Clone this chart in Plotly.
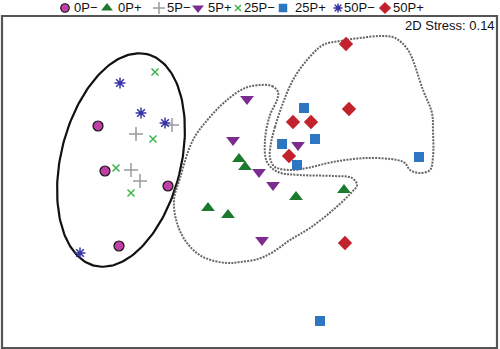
import numpy as np
import plotly.graph_objects as go

# ---- data: NMDS coordinates ----
groups = ["0P−", "0P+", "5P−", "5P+", "25P−", "25P+", "50P−", "50P+"]

x_0Pm = [-1.52, -1.45, -0.82, -1.31]
y_0Pm = [0.49, 0.04, -0.11, -0.71]
x_0Pp = [-0.11, -0.05, -0.42, -0.22, 0.46, 0.94]
y_0Pp = [0.16, 0.08, -0.33, -0.40, -0.22, -0.15]
x_5Pm = [-0.78, -1.14, -1.19, -1.10]
y_5Pm = [0.50, 0.41, 0.05, -0.06]
x_5Pp = [-0.03, -0.17, 0.09, 0.23, 0.48, 0.12]
y_5Pp = [0.76, 0.35, 0.03, -0.10, 0.30, -0.65]
x_25Pm = [-0.95, -0.97, -1.34, -1.19]
y_25Pm = [1.03, 0.36, 0.07, -0.18]
x_25Pp = [0.54, 0.32, 0.65, 0.47, 1.69, 0.70]
y_25Pp = [0.67, 0.31, 0.36, 0.10, 0.18, -1.46]
x_50Pm = [-1.30, -1.09, -0.85, -1.70]
y_50Pm = [0.92, 0.62, 0.52, -0.78]
x_50Pp = [0.96, 0.99, 0.43, 0.61, 0.39, 0.95]
y_50Pp = [1.31, 0.66, 0.53, 0.53, 0.19, -0.68]

# hand-drawn group outlines (dotted)
outline1_x = [0.10, 0.22, 0.28, 0.27, 0.20, 0.15, 0.17, 0.28, 0.50, 0.83, 1.02, 1.07, 1.00,
              0.83, 0.60, 0.40, 0.23, 0.08, -0.10, -0.23, -0.47, -0.63, -0.73, -0.76, -0.70,
              -0.57, -0.40, -0.23, -0.05, 0.10]
outline1_y = [0.90, 0.89, 0.83, 0.75, 0.60, 0.35, 0.13, 0.03, 0.00, -0.01, -0.03, -0.10, -0.19,
              -0.35, -0.53, -0.65, -0.77, -0.84, -0.87, -0.88, -0.82, -0.68, -0.48, -0.25, -0.03,
              0.35, 0.58, 0.75, 0.87, 0.90]
outline2_x = [0.21, 0.25, 0.33, 0.43, 0.57, 0.73, 0.90, 1.10, 1.32, 1.45, 1.58, 1.73, 1.82, 1.83,
              1.83, 1.80, 1.70, 1.60, 1.55, 1.47, 1.17, 0.83, 0.57, 0.40, 0.25, 0.20, 0.21]
outline2_y = [0.32, 0.48, 0.72, 0.95, 1.15, 1.30, 1.34, 1.37, 1.39, 1.37, 1.25, 0.85, 0.62, 0.45,
              0.18, 0.05, 0.02, 0.05, 0.12, 0.15, 0.17, 0.13, 0.07, 0.05, 0.08, 0.17, 0.32]

# ellipse around the P− groups: centre, semi-axes, tilt (deg from vertical)
ell_cx, ell_cy, ell_a, ell_b, ell_tilt = -1.29, 0.15, 1.09, 0.60, 14

stress_label = "2D Stress: 0.14"

# ---- styles ----
def style(g, s=1.0):
    base = {
        "0P−": dict(symbol="circle", size=10, color="#bf3fa6", line=dict(color="#111", width=1.2)),
        "0P+": dict(symbol="triangle-up", size=12, color="#1c7a2e", line=dict(width=0)),
        "5P−": dict(symbol="cross-thin-open", size=10, color="#9a9a9a", line=dict(color="#9a9a9a", width=1.5)),
        "5P+": dict(symbol="triangle-down", size=12, color="#7b2d8f", line=dict(width=0)),
        "25P−": dict(symbol="x-thin-open", size=7, color="#3db54a", line=dict(color="#3db54a", width=1.5)),
        "25P+": dict(symbol="square", size=10, color="#2c76c2", line=dict(width=0)),
        "50P−": dict(symbol="asterisk-open", size=9, color="#3434a6", line=dict(color="#3434a6", width=1.5)),
        "50P+": dict(symbol="diamond", size=11, color="#c2222b", line=dict(width=0)),
    }[g]
    base = dict(base)
    base["size"] = base["size"] * s
    return base

data = {
    "0P−": (x_0Pm, y_0Pm), "0P+": (x_0Pp, y_0Pp), "5P−": (x_5Pm, y_5Pm), "5P+": (x_5Pp, y_5Pp),
    "25P−": (x_25Pm, y_25Pm), "25P+": (x_25Pp, y_25Pp), "50P−": (x_50Pm, y_50Pm), "50P+": (x_50Pp, y_50Pp),
}

W, H = 500, 349
fx0, fx1, fy0, fy1 = 2, 497, 16, 348  # frame in pixels

fig = go.Figure()

# ellipse
t = np.linspace(0, 2 * np.pi, 200)
th = np.deg2rad(ell_tilt)
ex = ell_cx + ell_b * np.cos(t) * np.cos(th) + ell_a * np.sin(t) * np.sin(th)
ey = ell_cy - ell_b * np.cos(t) * np.sin(th) + ell_a * np.sin(t) * np.cos(th)
fig.add_trace(go.Scatter(x=ex, y=ey, mode="lines", line=dict(color="#111", width=2.2),
                         hoverinfo="skip", showlegend=False))
for ox, oy in [(outline1_x, outline1_y), (outline2_x, outline2_y)]:
    fig.add_trace(go.Scatter(x=ox, y=oy, mode="lines",
                             line=dict(color="#666", width=2, dash="2px,1.2px", shape="spline", smoothing=1.0),
                             hoverinfo="skip", showlegend=False))

for g in groups:
    xs, ys = data[g]
    fig.add_trace(go.Scatter(x=xs, y=ys, mode="markers", name=g, marker=style(g), showlegend=False))

# custom legend row on its own axes
leg_sym_x = [65, 107, 159, 198, 238, 283, 338, 385]
leg_txt_x = [73, 117, 166, 207, 243, 294, 343, 392]
for g, sx, tx in zip(groups, leg_sym_x, leg_txt_x):
    fig.add_trace(go.Scatter(x=[sx], y=[0.5], mode="markers", marker=style(g, 0.85), xaxis="x2", yaxis="y2",
                             showlegend=False, hoverinfo="skip"))
    fig.add_annotation(x=tx / W, y=1 - 8 / H, xref="paper", yref="paper", text=g, showarrow=False,
                       xanchor="left", yanchor="middle", font=dict(size=13, color="#111"), borderpad=0)

fig.add_annotation(x=496 / W, y=1 - 26 / H, xref="paper", yref="paper", text=stress_label, showarrow=False,
                   xanchor="right", yanchor="middle", font=dict(size=13, color="#111"), borderpad=0)

fig.add_shape(type="rect", xref="paper", yref="paper", x0=fx0 / W, x1=fx1 / W, y0=1 - fy1 / H, y1=1 - fy0 / H,
              line=dict(color="#555", width=2.2), layer="above")

fig.update_layout(
    width=W, height=H, margin=dict(l=0, r=0, t=0, b=0),
    paper_bgcolor="white", plot_bgcolor="white",
    font=dict(family="Liberation Sans, Arial, sans-serif"),
    xaxis=dict(domain=[fx0 / W, fx1 / W], range=[-2.48, 2.47], visible=False, fixedrange=True),
    yaxis=dict(domain=[1 - fy1 / H, 1 - fy0 / H], range=[-1.73, 1.59], visible=False, fixedrange=True),
    xaxis2=dict(domain=[0, 1], range=[0, W], visible=False, anchor="y2", fixedrange=True),
    yaxis2=dict(domain=[1 - fy0 / H, 1], range=[0, 1], visible=False, anchor="x2", fixedrange=True),
    showlegend=False,
)
fig.write_html("out.html", config={"displayModeBar": False},
               post_script="document.body.style.margin='0';document.body.style.overflow='hidden';")
